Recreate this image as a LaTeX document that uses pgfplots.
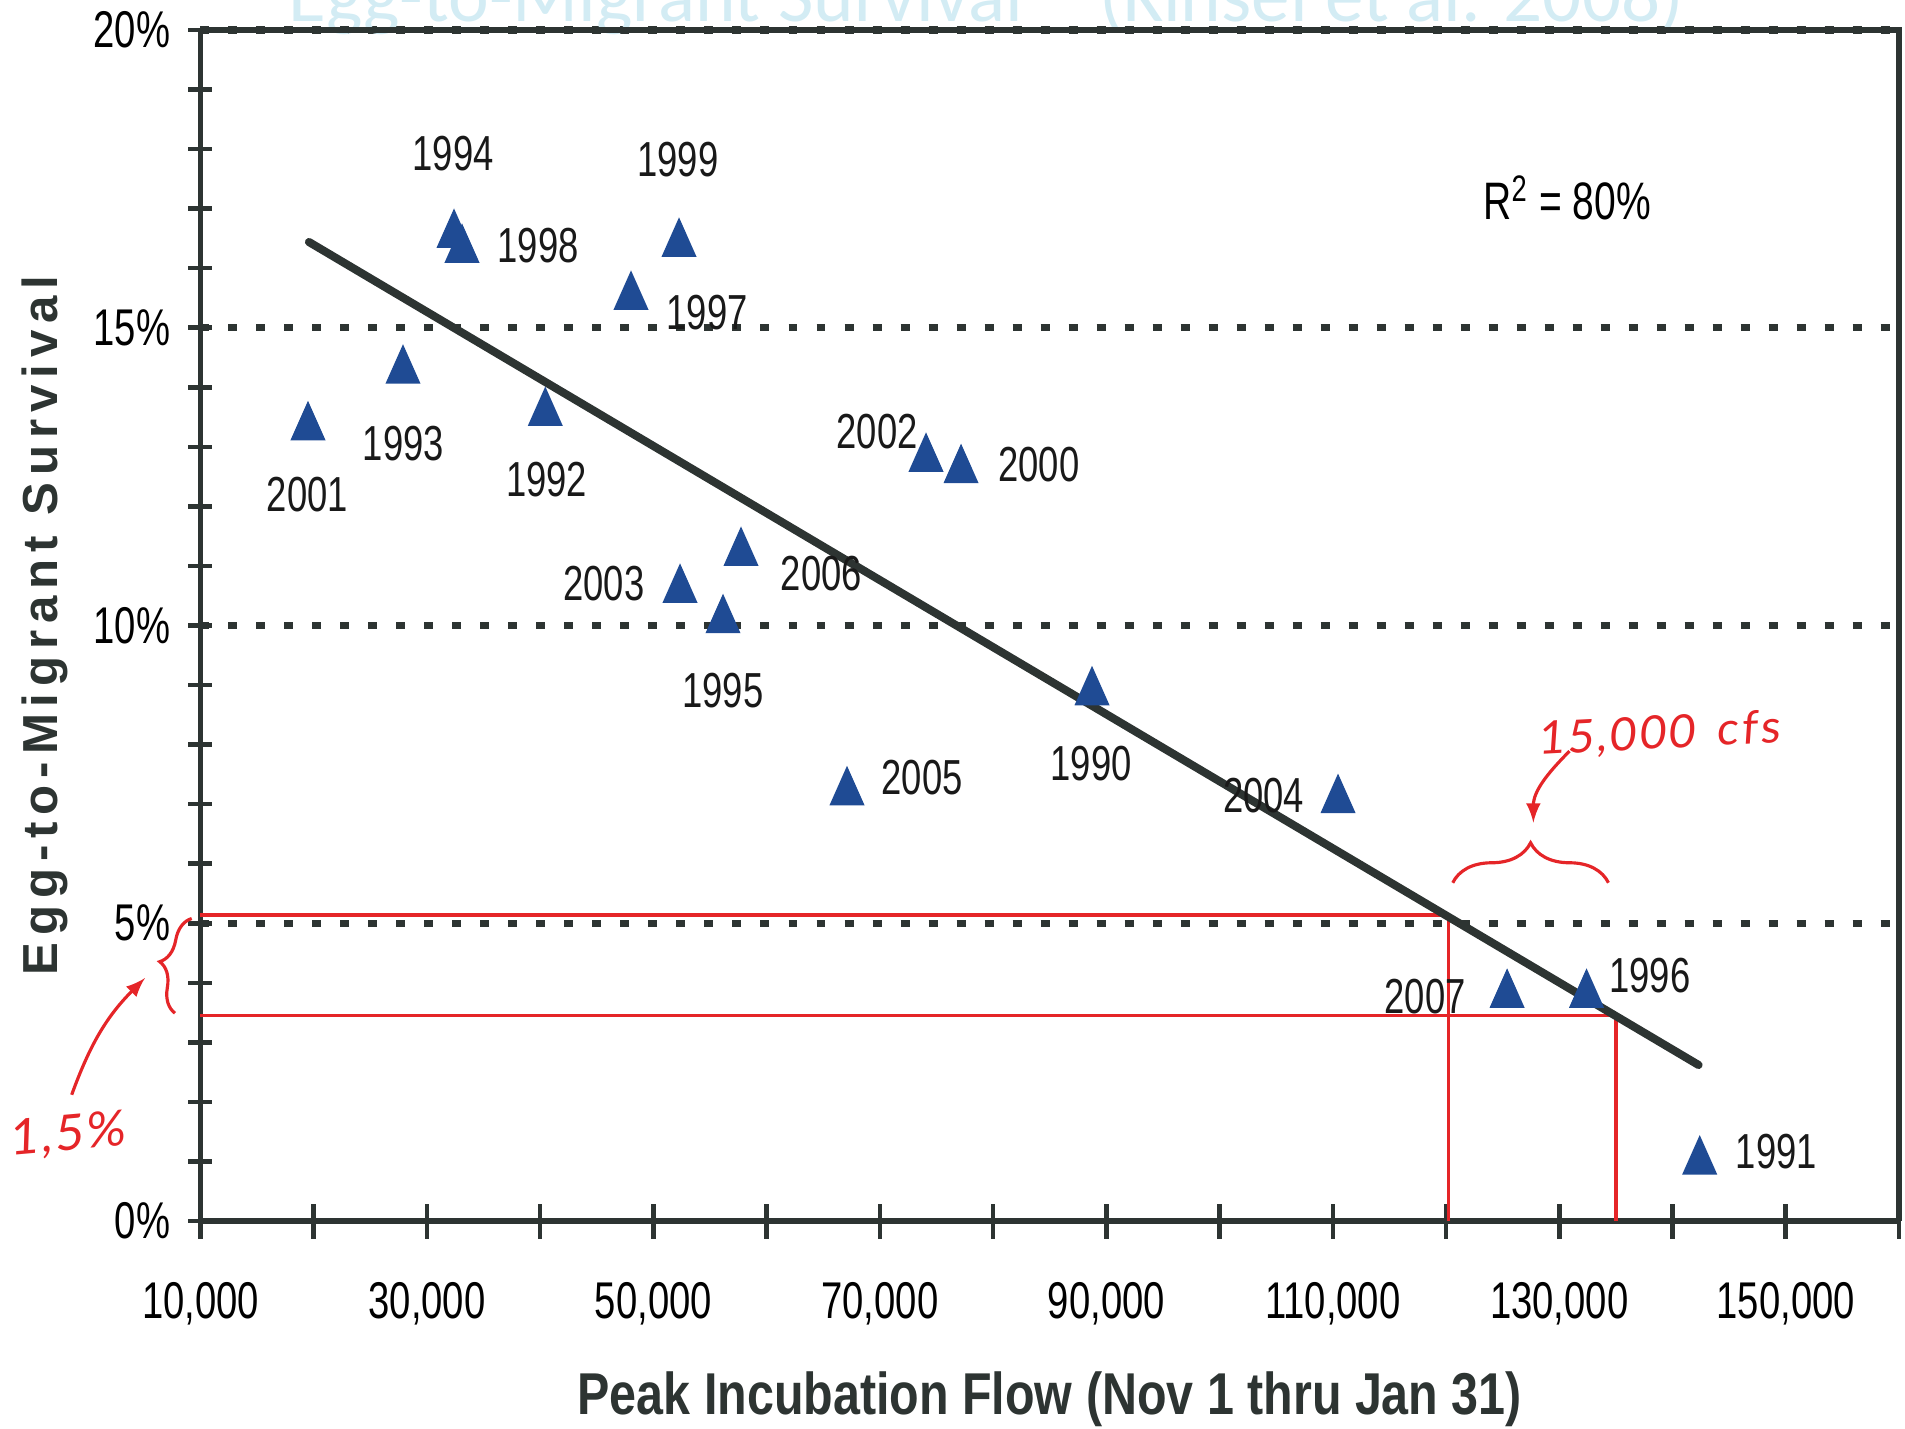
\documentclass[border=0pt]{standalone}
\usepackage{fontspec}
\usepackage{pgfplots}
\pgfplotsset{compat=1.18}
\usetikzlibrary{decorations.pathreplacing}
\setmainfont{Liberation Sans}
\newfontfamily\tickfont{Liberation Sans}[FakeStretch=0.74]
\newfontfamily\xlabfont{Liberation Sans}[FakeStretch=0.82]
\newfontfamily\ylabfont{Liberation Sans}[LetterSpace=14]
\newfontfamily\titlefont{Carlito}
\newfontfamily\handfont{Lato}[FakeSlant=0.12, LetterSpace=6]
\definecolor{axiscol}{HTML}{2D3432}
\definecolor{markblue}{HTML}{1F4B94}
\definecolor{inkred}{HTML}{E52528}
\definecolor{titlecol}{HTML}{D3ECF4}

\newcommand{\yr}[3]{\node[font=\tickfont\fontsize{14}{16}\selectfont, text=black!90] at (axis cs:#1,#2) {#3};}

\begin{document}
\begin{tikzpicture}
\begin{axis}[
  scale only axis, width=16.985cm, height=11.91cm,
  xmin=10000, xmax=160000, ymin=0, ymax=20,
  clip=false,
  axis x line*=bottom, axis y line*=left,
  axis line style={axiscol, line width=1.5pt, -},
  xtick={10000,30000,...,150000},
  minor xtick={20000,40000,...,160000},
  ytick={5,10,15,20},
  extra y ticks={0},
  extra y tick style={grid=none},
  minor ytick={1,2,3,4,6,7,8,9,11,12,13,14,16,17,18,19},
  tick align=center,
  major tick length=0.24cm, minor tick length=0.24cm,
  xtick style={/pgfplots/major tick length=0.35cm, /pgfplots/minor tick length=0.35cm},
  tick style={axiscol, line width=1.3pt},
  ymajorgrids,
  grid style={axiscol, line width=2pt, dash pattern=on 0.09cm off 0.19cm},
  scaled x ticks=false,
  /pgf/number format/fixed,
  /pgf/number format/precision=0,
  /pgf/number format/assume math mode=true,
  /pgf/number format/1000 sep={,},
  ticklabel style={font=\tickfont\fontsize{14.7}{16}\selectfont, text=black},
  xticklabel style={yshift=-0.37cm},
  yticklabel style={xshift=-0.06cm},
  yticklabel={\pgfmathprintnumber{\tick}\%},
]
% faded title, mostly cut off by the page edge
\node[anchor=base west, text=titlecol, inner sep=0pt] at (axis cs:17728,20.15)
  {\resizebox{13.95cm}{!}{\titlefont Egg-to-Migrant Survival\quad(Kinsel et al. 2008)}};

\draw[axiscol, line width=1.5pt] (rel axis cs:0,1) -- (rel axis cs:1,1) -- (rel axis cs:1,0);

% red hand annotations
\draw[inkred, line width=0.9pt] (axis cs:10000,5.14) -- (axis cs:120200,5.14) -- (axis cs:120200,0);
\draw[inkred, line width=0.9pt] (axis cs:10000,3.45) -- (axis cs:135000,3.45) -- (axis cs:135000,0);

% regression line
\addplot[axiscol, line width=2.3pt, line cap=round] coordinates {(19580,16.44) (142300,2.62)};

% observations
\addplot[only marks, mark=triangle*, mark size=0.19cm,
  mark options={fill=markblue, draw=markblue, yscale=1.3}] coordinates {
(19494,13.33) (27884,14.28) (32388,16.56) (33095,16.31) (40450,13.57)
(48020,15.52) (52260,16.41) (52348,10.60) (56145,10.09) (57735,11.22)
(67096,7.20) (74073,12.80) (77166,12.61) (88734,8.88) (110460,7.07)
(125390,3.80) (132405,3.80) (142400,1.00)};

\yr{32317}{17.93}{1994}
\yr{39824}{16.38}{1998}
\yr{52162}{17.83}{1999}
\yr{54741}{15.26}{1997}
\yr{27918}{13.06}{1993}
\yr{19441}{12.20}{2001}
\yr{40575}{12.45}{1992}
\yr{69763}{13.26}{2002}
\yr{84036}{12.71}{2000}
\yr{45618}{10.71}{2003}
\yr{64826}{10.87}{2006}
\yr{56137}{8.90}{1995}
\yr{73728}{7.45}{2005}
\yr{88646}{7.69}{1990}
\yr{103880}{7.14}{2004}
\yr{118150}{3.77}{2007}
\yr{138000}{4.12}{1996}
\yr{149160}{1.16}{1991}
\node[font=\tickfont\fontsize{15}{17}\selectfont] at (axis cs:130700,17.18) {R\textsuperscript{2} = 80\%};

\draw[inkred, line width=0.9pt, decorate, decoration={brace, amplitude=0.4cm}]
  (axis cs:120590,5.68) -- (axis cs:134340,5.68);
\draw[inkred, line width=0.9pt, -latex] (axis cs:130900,7.89) to[out=225, in=90] (axis cs:127710,6.69);
\node[inkred, rotate=3, font=\handfont\fontsize{13}{15}\selectfont] at (axis cs:138750,8.16) {15,000\, cfs};

\draw[inkred, line width=0.9pt, decorate, decoration={brace, amplitude=0.24cm}]
  (axis cs:7748,3.49) -- (axis cs:9223,5.08);
\draw[inkred, line width=0.9pt, -latex] (axis cs:-1375,2.12) to[out=70, in=225] (axis cs:5098,4.08);
\node[inkred, rotate=5, font=\handfont\fontsize{14}{16}\selectfont] at (axis cs:-1808,1.43) {1,5\%};

\node[rotate=90, font=\ylabfont\bfseries\fontsize{14}{16}\selectfont, text=axiscol]
  at ([xshift=-1.56cm]rel axis cs:0,0.5) {Egg-to-Migrant Survival};
\node[font=\xlabfont\bfseries\fontsize{16.8}{19}\selectfont, text=axiscol]
  at ([yshift=-1.78cm]rel axis cs:0.5,0) {Peak Incubation Flow (Nov 1 thru Jan 31)};
\end{axis}
\pgfresetboundingbox
\useasboundingbox (-2.005cm,-2.07cm) rectangle (17.045cm,12.21cm);
\end{tikzpicture}
\end{document}
